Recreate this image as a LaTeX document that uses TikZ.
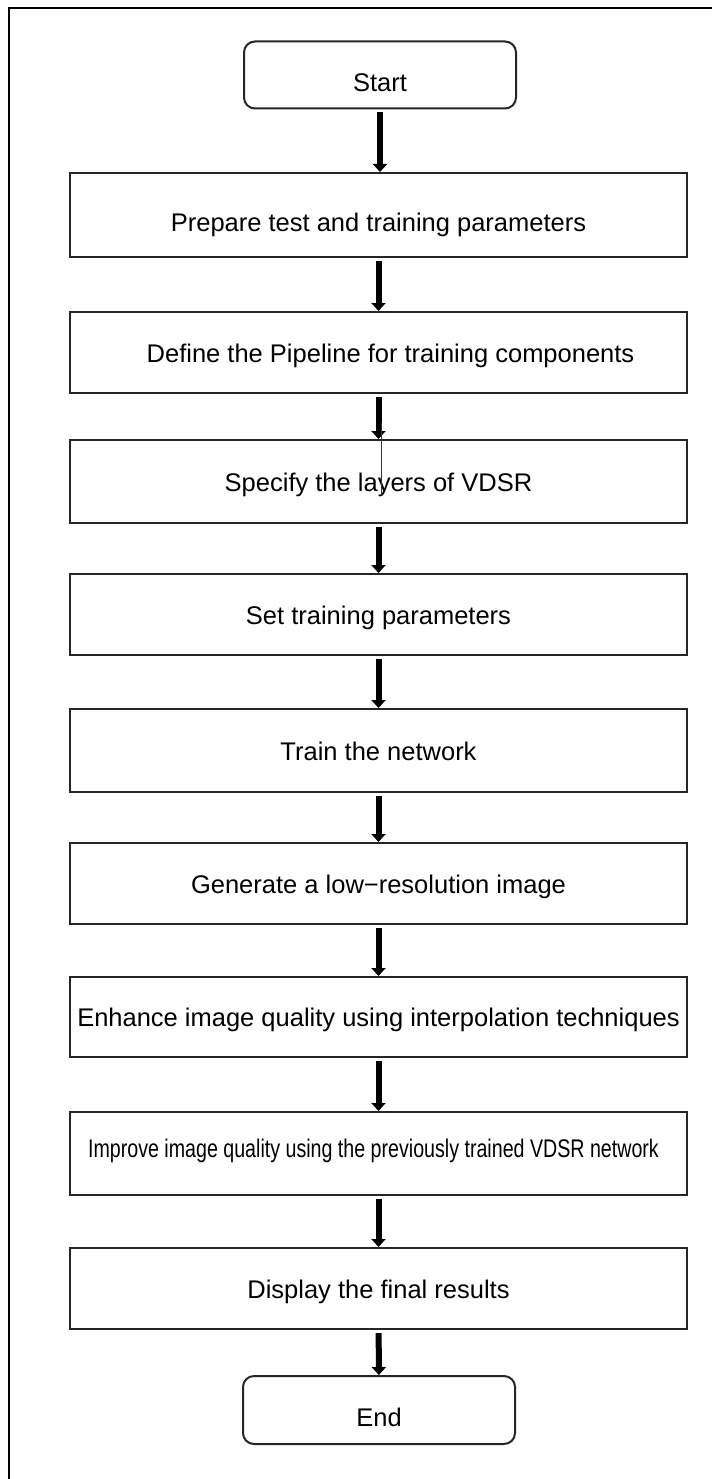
\documentclass[tikz,border=0pt]{standalone}
\usepackage{fontspec}
\setmainfont{Liberation Sans}
\usepackage{graphicx}
\usetikzlibrary{arrows.meta}

\tikzset{
  x=1pt, y=-1pt,
  every node/.style={font=\fontsize{25.5}{30}\selectfont, inner sep=0pt, text height=19pt, text depth=0pt},
  stepbox/.style={draw=black!85, line width=2pt, minimum width=617pt, minimum height=82pt},
  terminal/.style={draw=black!85, line width=2pt, rounded corners=11pt, minimum width=272pt, minimum height=67pt},
  flow/.style={line width=6pt, shorten <=3pt, -{Triangle[width=14pt,length=8pt]}},
  stray/.style={line width=1pt, black!80},
  frame/.style={line width=2.5pt, line cap=rect}
}

\begin{document}
\begin{tikzpicture}
\useasboundingbox (0,0) rectangle (719,1479);

% page frame
\draw[frame] (9,1479) -- (9,8) -- (711,8);

% flowchart boxes
\node[terminal, text height=33pt] (start) at (380,75) {Start};
\node[stepbox, minimum height=84pt, text height=33pt] (prep) at (378.5,215) {Prepare test and training parameters};
\node[stepbox, minimum height=81pt] (pipe) at (378.5,352.5) {\hspace*{24pt}Define the Pipeline for training components};
\node[stepbox, minimum height=83pt] (layers) at (378.5,481.5) {Specify the layers of VDSR};
\node[stepbox, minimum height=81pt] (params) at (378.5,614.5) {Set training parameters};
\node[stepbox, minimum height=83pt] (train) at (378.5,750.5) {Train the network};
\node[stepbox, minimum height=81pt] (lowres) at (378.5,883.5) {Generate a low−resolution image};
\node[stepbox, minimum height=80pt] (interp) at (378.5,1017) {Enhance image quality using interpolation techniques};
\node[stepbox, minimum height=83pt, text depth=12pt] (improve) at (378.5,1153.5) {\hspace*{-10pt}\scalebox{0.77}[1]{Improve image quality using the previously trained VDSR network}};
\node[stepbox, minimum height=81pt] (display) at (378.5,1288.5) {Display the final results};
\node[terminal, minimum height=68pt, text height=33pt] (end) at (379,1410) {End};

% connectors
\draw[flow] (start) -- (start |- prep.north);
\draw[flow] (prep) -- (pipe);
\draw[flow] (pipe) -- (layers);
\draw[flow] (layers) -- (params);
\draw[flow] (params) -- (train);
\draw[flow] (train) -- (lowres);
\draw[flow] (lowres) -- (interp);
\draw[flow] (interp) -- (improve);
\draw[flow] (improve) -- (display);
\draw[flow] (display) -- (end);

% thin extra stroke below the pipeline arrow
\coordinate (strayTop) at ([xshift=2.5pt, yshift=-29pt]pipe.south);
\coordinate (strayEnd) at ([xshift=2.5pt, yshift=-101pt]pipe.south);
\draw[stray] (strayTop) -- (strayEnd);
\end{tikzpicture}
\end{document}
